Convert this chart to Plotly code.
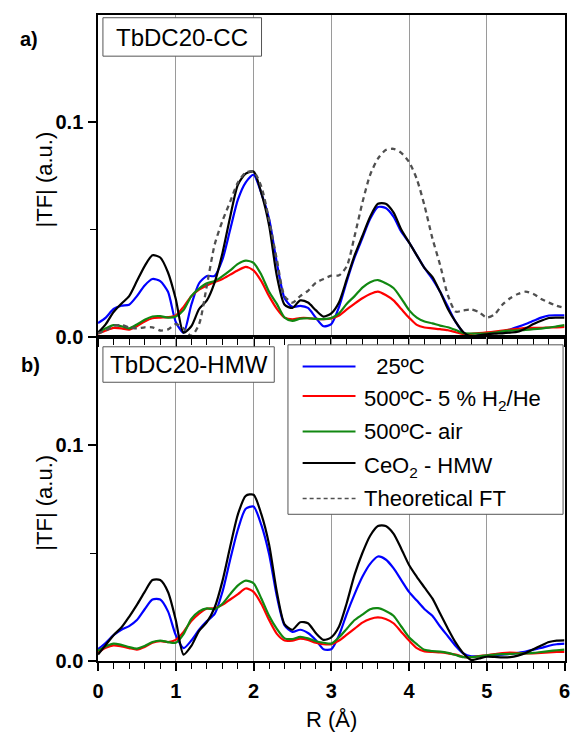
import plotly.graph_objects as go

# ---------------- data ----------------
R = [0.0, 0.1, 0.2, 0.3, 0.4, 0.5, 0.6, 0.7, 0.8, 0.9,
     1.0, 1.1, 1.2, 1.3, 1.4, 1.5, 1.6, 1.7, 1.8, 1.9,
     2.0, 2.1, 2.2, 2.3, 2.4, 2.5, 2.6, 2.7, 2.8, 2.9,
     3.0, 3.1, 3.2, 3.3, 3.4, 3.5, 3.6, 3.7, 3.8, 3.9,
     4.0, 4.1, 4.2, 4.3, 4.4, 4.5, 4.6, 4.7, 4.8, 4.9,
     5.0, 5.1, 5.2, 5.3, 5.4, 5.5, 5.6, 5.7, 5.8, 5.9, 6.0]

# panel a) TbDC20-CC
a_25C = [0.0065, 0.009, 0.013, 0.0145, 0.015, 0.019, 0.024, 0.027, 0.026, 0.021,
         0.007, 0.002, 0.015, 0.025, 0.0284, 0.0284, 0.036, 0.050, 0.064, 0.072,
         0.0755, 0.067, 0.055, 0.0345, 0.018, 0.014, 0.0145, 0.0135, 0.009, 0.005,
         0.006, 0.014, 0.026, 0.037, 0.046, 0.055, 0.0605, 0.060, 0.056, 0.049,
         0.044, 0.038, 0.032, 0.027, 0.021, 0.014, 0.007, 0.002, 0.0, 0.001,
         0.0015, 0.002, 0.0024, 0.0035, 0.0047, 0.006, 0.0075, 0.009, 0.010, 0.0101, 0.0101]
a_H2 = [0.0015, 0.003, 0.0042, 0.004, 0.0034, 0.005, 0.0072, 0.0087, 0.009, 0.0092,
        0.010, 0.014, 0.019, 0.022, 0.024, 0.0255, 0.027, 0.029, 0.031, 0.0326,
        0.031, 0.026, 0.019, 0.0131, 0.009, 0.0082, 0.0088, 0.0088, 0.0084, 0.0083,
        0.0086, 0.010, 0.0128, 0.0155, 0.018, 0.020, 0.0211, 0.0195, 0.017, 0.013,
        0.009, 0.0056, 0.0044, 0.004, 0.0036, 0.0031, 0.0022, 0.0013, 0.0014, 0.0018,
        0.0021, 0.0025, 0.003, 0.0034, 0.0038, 0.0042, 0.0042, 0.0042, 0.0044, 0.0045, 0.0047]
a_air = [0.002, 0.004, 0.0055, 0.005, 0.004, 0.0058, 0.008, 0.0095, 0.0097, 0.009,
         0.0095, 0.0125, 0.019, 0.0225, 0.025, 0.026, 0.0283, 0.031, 0.034, 0.0355,
         0.0345, 0.029, 0.021, 0.0154, 0.009, 0.0075, 0.0085, 0.0087, 0.0084, 0.0083,
         0.0088, 0.011, 0.0155, 0.019, 0.023, 0.0255, 0.0265, 0.025, 0.0228, 0.018,
         0.0125, 0.009, 0.0072, 0.0063, 0.0053, 0.0045, 0.0032, 0.0018, 0.0016, 0.0016,
         0.0016, 0.002, 0.0026, 0.0029, 0.0031, 0.0033, 0.0036, 0.0039, 0.0043, 0.0049, 0.0055]
a_CeO2 = [0.002, 0.006, 0.0116, 0.0155, 0.019, 0.026, 0.033, 0.038, 0.037, 0.030,
          0.0177, 0.002, 0.005, 0.013, 0.017, 0.0254, 0.039, 0.056, 0.071, 0.076,
          0.077, 0.067, 0.052, 0.0284, 0.015, 0.0135, 0.017, 0.016, 0.0125, 0.0095,
          0.011, 0.0162, 0.027, 0.038, 0.047, 0.056, 0.062, 0.062, 0.058, 0.050,
          0.044, 0.038, 0.032, 0.028, 0.021, 0.013, 0.007, 0.0022, 0.0002, 0.0008,
          0.0012, 0.0015, 0.0017, 0.002, 0.0024, 0.004, 0.006, 0.0075, 0.0088, 0.009, 0.009]
a_theory = [0.0017, 0.003, 0.0052, 0.0055, 0.0045, 0.004, 0.0045, 0.0045, 0.003, 0.0035,
            0.006, 0.004, 0.0005, 0.006, 0.024, 0.043, 0.054, 0.063, 0.072, 0.0765,
            0.077, 0.070, 0.0545, 0.036, 0.019, 0.016, 0.019, 0.0215, 0.0252, 0.027,
            0.0285, 0.0287, 0.033, 0.047, 0.0625, 0.0755, 0.083, 0.087, 0.0876, 0.0857,
            0.0815, 0.0735, 0.061, 0.046, 0.0335, 0.0194, 0.0118, 0.0124, 0.0128, 0.0115,
            0.009, 0.0105, 0.015, 0.018, 0.020, 0.0211, 0.020, 0.0177, 0.016, 0.0145, 0.0135]

# panel b) TbDC20-HMW
b_25C = [0.0055, 0.0085, 0.012, 0.0145, 0.0162, 0.019, 0.024, 0.0285, 0.0285, 0.023,
         0.012, 0.006, 0.0095, 0.0145, 0.0185, 0.0218, 0.032, 0.047, 0.061, 0.0705,
         0.0715, 0.063, 0.0495, 0.030, 0.0165, 0.0135, 0.0145, 0.013, 0.0098, 0.0055,
         0.0055, 0.012, 0.022, 0.031, 0.039, 0.045, 0.0484, 0.047, 0.043, 0.0375,
         0.032, 0.028, 0.024, 0.021, 0.016, 0.0115, 0.007, 0.0035, 0.0022, 0.0023,
         0.0024, 0.0027, 0.003, 0.0033, 0.0038, 0.0044, 0.0053, 0.0061, 0.0071, 0.0078, 0.0081]
b_H2 = [0.004, 0.0062, 0.0073, 0.0068, 0.006, 0.0053, 0.0065, 0.0085, 0.0092, 0.0088,
        0.0098, 0.0135, 0.0185, 0.022, 0.0242, 0.0245, 0.026, 0.0285, 0.031, 0.0336,
        0.032, 0.0265, 0.019, 0.0126, 0.0095, 0.0095, 0.0104, 0.0098, 0.0085, 0.0078,
        0.0078, 0.0095, 0.0122, 0.015, 0.0178, 0.0195, 0.0202, 0.0195, 0.0175, 0.0135,
        0.0095, 0.006, 0.0045, 0.0042, 0.004, 0.0036, 0.003, 0.0019, 0.0018, 0.0023,
        0.0027, 0.0032, 0.0037, 0.0039, 0.0037, 0.0035, 0.0036, 0.0038, 0.004, 0.0042, 0.0043]
b_air = [0.0048, 0.0068, 0.0081, 0.0075, 0.0065, 0.0058, 0.007, 0.0088, 0.0095, 0.0088,
         0.0085, 0.0125, 0.0195, 0.023, 0.0244, 0.024, 0.0265, 0.031, 0.035, 0.0372,
         0.036, 0.029, 0.021, 0.0149, 0.0105, 0.0102, 0.0112, 0.0105, 0.0092, 0.0085,
         0.0081, 0.011, 0.015, 0.019, 0.0215, 0.024, 0.0245, 0.0232, 0.021, 0.016,
         0.011, 0.0078, 0.0052, 0.0046, 0.0044, 0.0038, 0.0028, 0.0018, 0.0018, 0.0022,
         0.0026, 0.003, 0.0032, 0.0033, 0.0035, 0.0036, 0.0038, 0.0042, 0.0046, 0.005, 0.0053]
b_CeO2 = [0.003, 0.0075, 0.012, 0.0155, 0.0205, 0.026, 0.032, 0.0375, 0.0375, 0.032,
          0.019, 0.003, 0.007, 0.014, 0.018, 0.0248, 0.037, 0.053, 0.068, 0.0765,
          0.077, 0.068, 0.054, 0.032, 0.017, 0.0145, 0.018, 0.0175, 0.013, 0.0098,
          0.011, 0.016, 0.027, 0.040, 0.050, 0.058, 0.0625, 0.0625, 0.059, 0.052,
          0.0445, 0.039, 0.034, 0.029, 0.022, 0.015, 0.0085, 0.0035, 0.0005, 0.0012,
          0.002, 0.0019, 0.0017, 0.0018, 0.0025, 0.0037, 0.0055, 0.0072, 0.0088, 0.0095, 0.0096]

series_names = ["  25ºC", "500ºC- 5 % H<sub>2</sub>/He", "500ºC- air",
                "CeO<sub>2</sub> - HMW", "Theoretical FT"]
panel_labels = ["TbDC20-CC", "TbDC20-HMW"]
x_tick_labels = ["0", "1", "2", "3", "4", "5", "6"]
y_tick_vals = [0.0, 0.1]
y_tick_labels = ["0.0", "0.1"]

# ---------------- styling ----------------
W, H = 572, 744
BLUE, RED, GREEN, BLACK, GRAY = "#0000ff", "#ff0000", "#118811", "#000000", "#505050"
FONT = "Liberation Sans, Arial, sans-serif"


def px(x):
    return x / W


def py(y):
    return 1 - y / H


X_DOM = [px(94), px(570.5)]
TOP_DOM = [py(342), py(15)]
BOT_DOM = [py(671), py(342)]

fig = go.Figure()

colors = [BLUE, RED, GREEN, BLACK]
top_series = [a_25C, a_H2, a_air, a_CeO2]
bot_series = [b_25C, b_H2, b_air, b_CeO2]
for i in range(4):
    fig.add_trace(go.Scatter(x=R, y=top_series[i], mode="lines", xaxis="x", yaxis="y",
                             line=dict(color=colors[i], width=2.2, shape="spline", smoothing=0.7),
                             showlegend=False, hoverinfo="skip"))
fig.add_trace(go.Scatter(x=R, y=a_theory, mode="lines", xaxis="x", yaxis="y",
                         line=dict(color=GRAY, width=2.3, dash="5px,4px", shape="spline", smoothing=0.7),
                         showlegend=False, hoverinfo="skip"))
for i in range(4):
    fig.add_trace(go.Scatter(x=R, y=bot_series[i], mode="lines", xaxis="x2", yaxis="y2",
                             line=dict(color=colors[i], width=2.2, shape="spline", smoothing=0.7),
                             showlegend=False, hoverinfo="skip"))

tickfont = dict(family=FONT, size=20, color="black", weight="bold")
xcommon = dict(range=[0, 6], tickmode="array", tickvals=[0, 1, 2, 3, 4, 5, 6],
               ticktext=x_tick_labels, ticks="outside", ticklen=8, tickwidth=1.5,
               tickcolor="black", ticklabeloverflow="allow", ticklabelstandoff=3,
               minor=dict(tickmode="linear", dtick=0.2, tick0=0, ticks="outside",
                          ticklen=6, tickwidth=1.2, tickcolor="black", showgrid=False),
               showline=True, linewidth=1.5, linecolor="black", mirror=True,
               showgrid=True, gridcolor="#9a9a9a", gridwidth=1, zeroline=False,
               tickfont=tickfont, domain=X_DOM, fixedrange=True)
ycommon = dict(range=[0, 0.15], tickmode="array", tickvals=y_tick_vals,
               ticktext=y_tick_labels, ticks="outside", ticklen=8, tickwidth=1.5,
               tickcolor="black", ticklabelstandoff=1,
               minor=dict(tickmode="array", tickvals=[0.05], ticks="outside",
                          ticklen=6, tickwidth=1.2, tickcolor="black", showgrid=False),
               showline=True, linewidth=1.5, linecolor="black", mirror=True,
               showgrid=False, zeroline=False, tickfont=tickfont, fixedrange=True)

fig.update_layout(
    width=W, height=H, margin=dict(l=0, r=0, t=0, b=0),
    paper_bgcolor="white", plot_bgcolor="white",
    xaxis=dict(xcommon, anchor="y", showticklabels=False),
    yaxis=dict(ycommon, anchor="x", domain=TOP_DOM),
    xaxis2=dict(xcommon, anchor="y2"),
    yaxis2=dict(ycommon, anchor="x2", domain=BOT_DOM),
    showlegend=False,
)

shapes = []
annotations = []


def text(t, x, y, size, bold=False, xanchor="center", angle=0):
    annotations.append(dict(text=t, x=px(x), y=py(y), xref="paper", yref="paper",
                            xanchor=xanchor, yanchor="middle", showarrow=False,
                            textangle=angle,
                            font=dict(family=FONT, size=size, color="black",
                                      weight="bold" if bold else "normal")))


def rect(x0, y0, x1, y1):
    shapes.append(dict(type="rect", xref="paper", yref="paper",
                       x0=px(x0), x1=px(x1), y0=py(y1), y1=py(y0),
                       line=dict(color="#555555", width=1), fillcolor="white",
                       layer="above"))


# panel letters
text("a)", 23, 40, 20, bold=True)
text("b)", 25, 370, 20, bold=True)

# sample label boxes
rect(99, 18, 261, 57)
text(panel_labels[0], 180, 38, 24)
rect(99, 352, 274, 388)
text(panel_labels[1], 187, 370, 24)

# axis titles
text("|TF| (a.u.)", 39, 182, 22, angle=-90)
text("|TF| (a.u.)", 39, 510, 22, angle=-90)
text("R (Å)", 332, 730, 22)

# legend
rect(288, 350, 569, 522)
leg_y = [372, 402, 438, 470, 506]
leg_colors = [BLUE, RED, GREEN, BLACK, GRAY]
for k in range(5):
    dash = "solid" if k < 4 else "4px,3px"
    shapes.append(dict(type="line", xref="paper", yref="paper",
                       x0=px(303), x1=px(357), y0=py(leg_y[k]), y1=py(leg_y[k]),
                       line=dict(color=leg_colors[k], width=2 if k < 4 else 1.5, dash=dash),
                       layer="above"))
    ty = leg_y[k] + (4 if "<sub>" in series_names[k] else 0)
    text(series_names[k], 364, ty, 22, xanchor="left")

fig.update_layout(shapes=shapes, annotations=annotations)
fig.write_html("out.html")
